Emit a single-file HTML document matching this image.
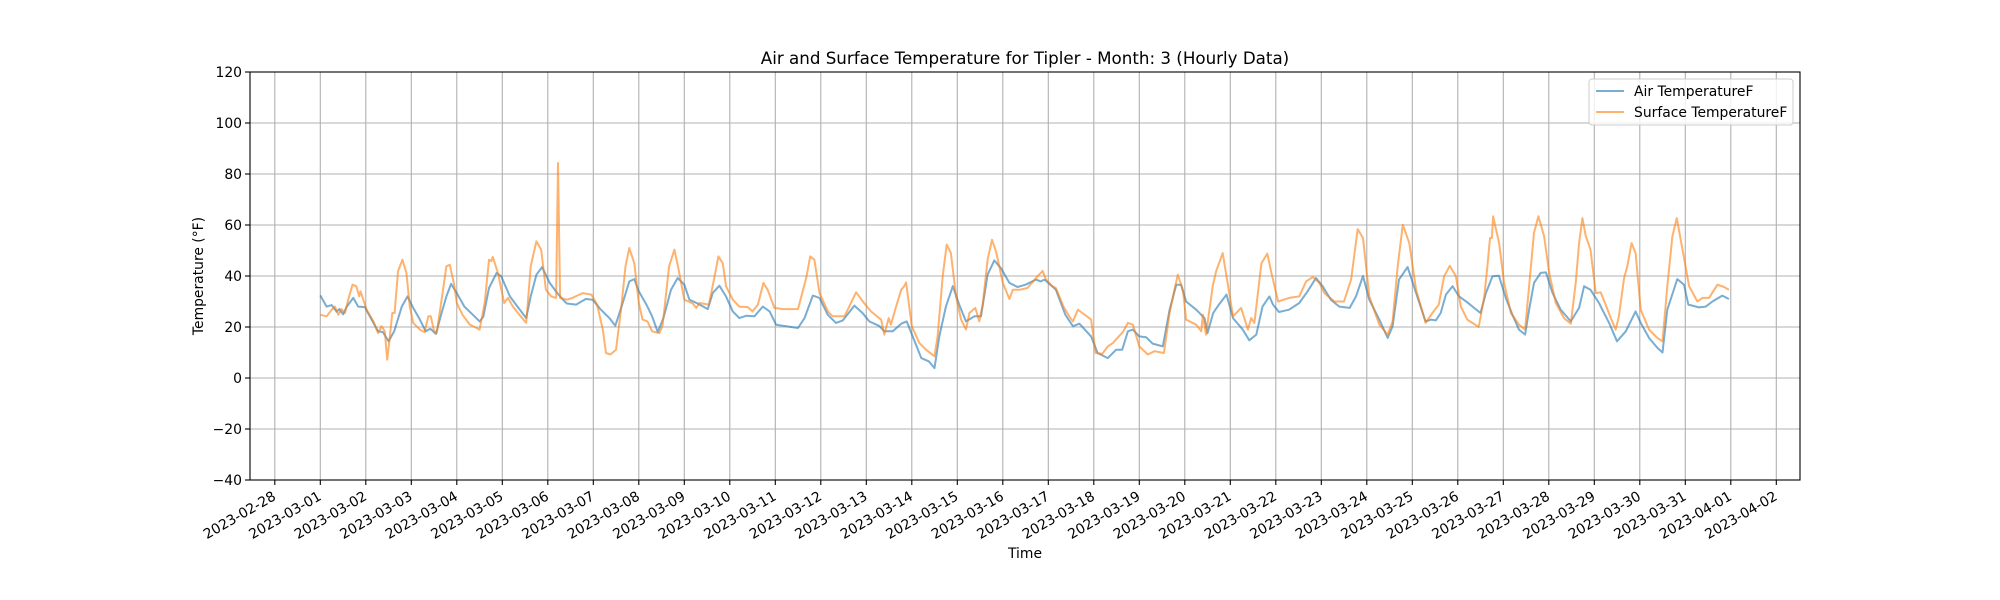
<!DOCTYPE html>
<html><head><meta charset="utf-8"><style>
body{margin:0;background:#fff}
svg{display:block;font-family:"DejaVu Sans","Liberation Sans",sans-serif}
</style></head><body>
<svg id="chart" width="2000" height="600" viewBox="0 0 2000 600">
<rect width="2000" height="600" fill="#fff"/>
<text x="1025" y="64" text-anchor="middle" font-size="16.7" fill="#000">Air and Surface Temperature for Tipler - Month: 3 (Hourly Data)</text>
<text x="1025" y="558" text-anchor="middle" font-size="13.9" fill="#000">Time</text>
<text transform="translate(203,276) rotate(-90)" text-anchor="middle" font-size="13.9" fill="#000">Temperature (°F)</text>
<g id="grid"></g>
<g id="series"></g>
<rect x="250" y="72" width="1550" height="408" fill="none" stroke="#000" stroke-width="1.1"/>
<g id="ticks"></g>
<g>
<rect x="1589" y="79" width="204" height="46" rx="3" fill="#fff" fill-opacity="0.8" stroke="#ccc"/>
<line x1="1596" y1="91" x2="1624" y2="91" stroke="#1f77b4" stroke-opacity="0.6" stroke-width="2"/>
<text x="1634" y="96" font-size="13.9">Air TemperatureF</text>
<line x1="1596" y1="112" x2="1624" y2="112" stroke="#ff7f0e" stroke-opacity="0.6" stroke-width="2"/>
<text x="1634" y="117" font-size="13.9">Surface TemperatureF</text>
</g>
</svg>
<script>
const yTicks=[-40,-20,0,20,40,60,80,100,120];
const dateLabels=["2023-02-28","2023-03-01","2023-03-02","2023-03-03","2023-03-04","2023-03-05","2023-03-06","2023-03-07","2023-03-08","2023-03-09","2023-03-10","2023-03-11","2023-03-12","2023-03-13","2023-03-14","2023-03-15","2023-03-16","2023-03-17","2023-03-18","2023-03-19","2023-03-20","2023-03-21","2023-03-22","2023-03-23","2023-03-24","2023-03-25","2023-03-26","2023-03-27","2023-03-28","2023-03-29","2023-03-30","2023-03-31","2023-04-01","2023-04-02"];
const airHours=[0,3.3,6,8.6,10,12,14,17.4,20,23.5,27,30.5,33,36,39,43,46,49,52.5,55.6,58,61,64,66.5,69,72,76,80.5,84,86,89,93,95.4,100,104,108.6,111,114,117,121,125,128,130,135,140,143.7,148,152.5,155.6,159.5,163,165.6,168,172,175,178,181,185,188.5,192,194.7,199,204.4,207,210.5,214,217.6,221,224.6,229,233.4,237,240.4,245.7,252,255.4,259.8,263.3,267.7,272,275.6,281.7,286,289.6,295,297.5,302,306.4,309.3,312.5,317,321,324,326.5,330,333.6,337,340.6,345,348.5,352,355.5,359,363.5,367.8,372,377.5,380,382,386,388,393,397,400.4,406.6,410,415.4,419.8,423,426,428.6,432,435.6,439,444.4,448,451.5,454,456.7,462,466.4,468,471,474,478,481.4,486.6,490,493.7,497,500.6,502.5,505.7,511,516.4,520.8,525.2,528.7,533,537.5,543,546.3,550,553.3,558.6,563,565.6,569,573.5,578,583,586,588.4,591,593.7,597.2,600.7,605,608.6,612,614.8,618.3,621.7,625.3,628.8,632.3,635.5,637.6,640.2,643.7,646.5,650,654.3,659.6,664,666.6,670,674.5,679.8,684,688.6,693.8,696.5,700.9,705.3,708,710.5,715.8,719.3,721.6,727.2,730.8,734.3,739.5,743];
const airTemp=[32.4,28,28.6,26,27,25,28,31.4,28,27.8,23,18.3,18,14.4,18.3,28,32,27.5,23,18.3,19.3,17.3,25.5,32,36.9,33.3,28,24.8,22.2,24,35.3,41.2,39.9,32,28,23.5,32,40.5,43.5,37.3,33.3,30.7,29.2,28.8,31,30.7,26.8,23.5,20.5,29.4,37.9,38.8,34,28.8,24.2,18,23.5,34.6,39.2,36.6,30.7,29.2,27,33.3,36.2,32,26.1,23.5,24.4,24.2,28,26.1,20.9,20.3,19.6,23.5,32.3,31.4,24.8,21.6,22.6,28.4,25.5,22.2,20.3,18.3,18.3,21.3,22.2,16.3,7.8,6.5,3.9,16.3,28,36,28.8,22.2,24.2,24.2,40.5,46.1,43.1,37.3,35.7,36.6,38.6,37.9,38.6,36,34.6,24.8,20.3,21.3,16.3,9.8,7.8,11.1,11.1,18.3,19,16.3,16,13.5,12.4,26.8,36.6,36.6,30,26.8,23.5,17.6,25.5,28.8,32.7,23.5,19,14.8,17,28,32,28.8,25.9,26.8,29.4,34,39.2,36,30.7,28,27.5,32,40,30.7,22.9,15.7,20.3,38.6,43.5,33.3,22.2,22.9,22.6,25.5,32.7,36,32,29.7,27.5,25.5,33.3,39.9,40.1,31.4,24.8,19,17,26.8,37.3,41.2,41.4,33.3,26.8,22.2,27.5,36,34.6,29.4,21.6,14.4,18.3,26.1,21.6,15.7,11.8,10,26.8,38.8,36.6,28.8,27.7,28,30,32.3,31];
const surfHours=[0,3.3,6,7.7,9.5,11.2,13,14.7,17,19,20.5,21.2,24.4,28,30.5,32.3,34,35.3,36.7,38,39.2,41,43.3,45.4,47.2,49,52.5,55,57,58.3,60,61.4,64,66.5,68.3,70.4,72,75,78.8,84,86.7,89,90.2,91,93.7,97,99,101.6,105,108.6,111,114,116.5,119,121.8,124.4,125.4,126.5,130,133,138.4,143,146,149,150.7,153,156,158.6,161,163,165.6,168,170,172.6,175,178.8,180.5,184,186.8,189,192,196.5,198.3,200,205,208,210,212.3,214,217.6,221,225.5,228,230.8,233.7,236,239.5,244,252,256.3,258.4,260.6,263.3,267.7,270.3,276.5,282.6,287,290.5,295.8,297.5,299.8,301,303.5,306.4,308,309,312,316,319.5,324,325.6,328.3,330.4,332.6,335.3,338,340.6,342.4,345.5,347.6,349.4,352,354.3,356.4,360,363.5,365.3,368.8,373,378.3,381,382.8,386,388,392,395,397,399.6,402,406.6,409,412.5,415.4,418,423.3,426,428.6,432,436.5,440,445,448,450.5,452.3,455,456.7,462,464.7,465.5,467.2,470.7,472.5,476,478.6,481.4,485.7,489.3,491,492.7,496.4,499.5,501.7,505.2,511,516.4,520,523.5,527,529.6,535,540,543.7,547.2,550,553.3,558.6,563,565.6,568.3,571,574.4,578,583,586.6,590,592.8,595.8,599,601.6,605,611,614,615.6,617,618,618.6,621.8,624.4,628,632.3,635.5,637.6,640.2,642.5,645.5,648.2,651.7,656,659.6,662.2,664,665.7,667.5,670,672.8,675.4,679,680.7,683.3,685,687.7,689.4,691.7,693.8,696.5,700.9,705.3,708,710.5,713.2,715.5,718.5,722,726.4,729,732.5,737,740.4,743];
const surfTemp=[24.8,24.2,26.8,28,24.8,27,25.5,30.7,36.6,36,32,34,26.8,22.2,17.6,20.3,18.3,7.2,16.3,25.5,25.5,41.8,46.4,41.2,28,21.6,19,18,24.2,24.2,18.3,17.6,30.7,43.8,44.4,37.3,29.4,24.8,21,19,29.4,46.4,45.8,47.5,41.2,29.4,31.4,28,24.8,21.6,43.8,53.6,50.3,34.6,32,31.4,84.3,31.4,30.7,31.4,33.3,32.7,28.8,19,9.8,9.2,11.1,26.8,43.8,51,45,29.4,22.9,22.2,18.3,17.6,20.3,43.8,50.3,42.5,30.7,29.2,27.5,29.4,28.8,39.9,47.7,45,36,30.7,28,27.8,26.1,28.8,37.3,34.6,27.5,27,27,39.2,47.7,46.4,33.3,26.1,24.2,24.2,33.6,29.2,26.1,22.9,17,23.5,20.9,27.5,34.6,36,37.5,20.3,13.7,11.1,8.5,16.3,39.9,52.3,49,32,22.9,19,25.5,27.5,22.2,28.8,46.4,54.2,49.7,37.3,31,34.6,34.6,35.3,39.9,42,38.6,36,35.3,28,24.2,22.2,26.8,25.5,22.9,9.8,9.5,12.4,13.7,18,21.6,20.9,12.4,9.2,10.5,9.8,25.5,34.6,40.5,34.6,22.9,20.9,18.3,24.8,17,36,41.8,49,37.3,24.2,27.5,19,23.5,21.6,45,48.8,41.2,30,31.4,32,37.9,39.6,37.3,33.3,30,30,38.6,58.4,54.9,32,20.9,17,22.2,43.8,60.1,52.9,34.6,21.6,25.5,28.8,39.9,44,39.9,28,22.9,20,32,43.8,54.9,54.9,63.4,52.9,37.3,25.5,20.9,19,36,57,63.4,55.6,41.2,29.4,23.5,21.3,37.3,52.9,62.7,55.6,50.3,33.3,33.6,26.8,23.5,19,24.2,39.2,43.8,52.9,49,26.8,19,15.7,14.4,36,55.6,62.7,50.3,36,30,31.4,31.4,36.6,35.7,34.6];

const NS='http://www.w3.org/2000/svg';
const X0=250,X1=1800,Y0=72,Y1=480;
function xScale(h){return 320.3+h*(45.5/24);}
function yScale(v){return Y1-(v+40)*(408/160);}
function mk(tag,attrs,parent){const e=document.createElementNS(NS,tag);for(const k in attrs)e.setAttribute(k,attrs[k]);parent.appendChild(e);return e;}
const grid=document.getElementById('grid'),ticks=document.getElementById('ticks'),series=document.getElementById('series');

yTicks.forEach(v=>{
  const y=yScale(v);
  const g=mk('line',{x1:X0,x2:X1,y1:y,y2:y,stroke:'#b0b0b0','stroke-width':1.1},grid);
  
  
  const t=mk('line',{x1:X0-5,x2:X0,y1:y,y2:y,stroke:'#000','stroke-width':1.1},ticks);
  
  
  const l=mk('text',{x:X0-8,y:y+5,'text-anchor':'end','font-size':13.9},ticks);
  l.textContent=String(v).replace('-','\u2212');
  
  
});
dateLabels.forEach((d,i)=>{
  const x=xScale((i-1)*24);
  const g=mk('line',{x1:x,x2:x,y1:Y0,y2:Y1,stroke:'#b0b0b0','stroke-width':1.1},grid);
  
  
  const t=mk('line',{x1:x,x2:x,y1:Y1,y2:Y1+5,stroke:'#000','stroke-width':1.1},ticks);
  
  
  const l=mk('text',{transform:'translate('+(x+2)+','+(Y1+19)+') rotate(-30)','text-anchor':'end','font-size':13.9},ticks);
  l.textContent=d;
  
  
});
function line(hours,vals,color,name){
  const d=hours.map((h,i)=>(i?'L':'M')+xScale(h).toFixed(1)+','+yScale(vals[i]).toFixed(1)).join('');
  const p=mk('path',{d:d,fill:'none',stroke:color,'stroke-opacity':0.6,'stroke-width':2,'stroke-linejoin':'round'},series);
  
  
}
line(airHours,airTemp,'#1f77b4','air-temperature-line');
line(surfHours,surfTemp,'#ff7f0e','surface-temperature-line');
</script>
</body></html>
